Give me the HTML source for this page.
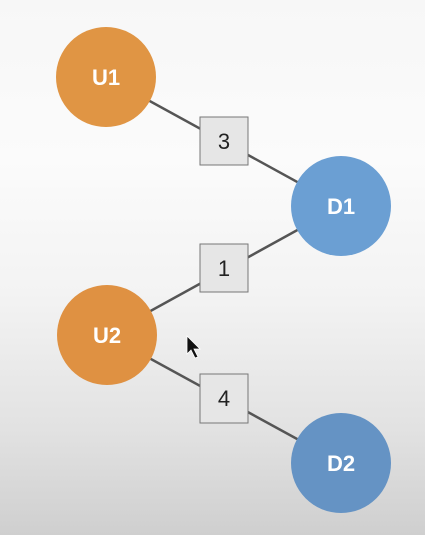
<!DOCTYPE html>
<html><head><style>
html,body{margin:0;padding:0;}
body{width:425px;height:535px;overflow:hidden;background:linear-gradient(180deg,#f7f7f7 0%,#fbfbfb 30%,#f3f3f3 55%,#e2e2e2 80%,#cfcfcf 100%);}
</style></head><body>
<svg width="425" height="535" xmlns="http://www.w3.org/2000/svg" style="position:absolute;left:0;top:0">
<g stroke="#555" stroke-width="2.5">
<line x1="106" y1="77" x2="341" y2="206"/>
<line x1="341" y1="206" x2="107" y2="335"/>
<line x1="107" y1="335" x2="341" y2="463"/>
</g>
<circle cx="106" cy="77" r="50" fill="#e09544"/>
<circle cx="341" cy="206" r="50" fill="#6b9fd3"/>
<circle cx="107" cy="335" r="50" fill="#df9142"/>
<circle cx="341" cy="463" r="50" fill="#6593c4"/>
<g fill="#e6e6e6" stroke="#777" stroke-width="1">
<rect x="200" y="117" width="48" height="48"/>
<rect x="200" y="244" width="48" height="48"/>
<rect x="200" y="374" width="48" height="49"/>
</g>
<g font-family="Liberation Sans, sans-serif" font-weight="bold" font-size="22" fill="#fff" text-anchor="middle">
<text x="106" y="85">U1</text>
<text x="341" y="214">D1</text>
<text x="107" y="343">U2</text>
<text x="341" y="471">D2</text>
</g>
<g font-family="Liberation Sans, sans-serif" font-size="22" fill="#222" text-anchor="middle">
<text x="224" y="149">3</text>
<text x="224" y="276">1</text>
<text x="224" y="406">4</text>
</g>
<path d="M187,336 L187,354 L191,350 L195,358 L198,357 L194,349 L200,349 Z" fill="#111" stroke="#fff" stroke-width="0.8"/>
</svg>
</body></html>
